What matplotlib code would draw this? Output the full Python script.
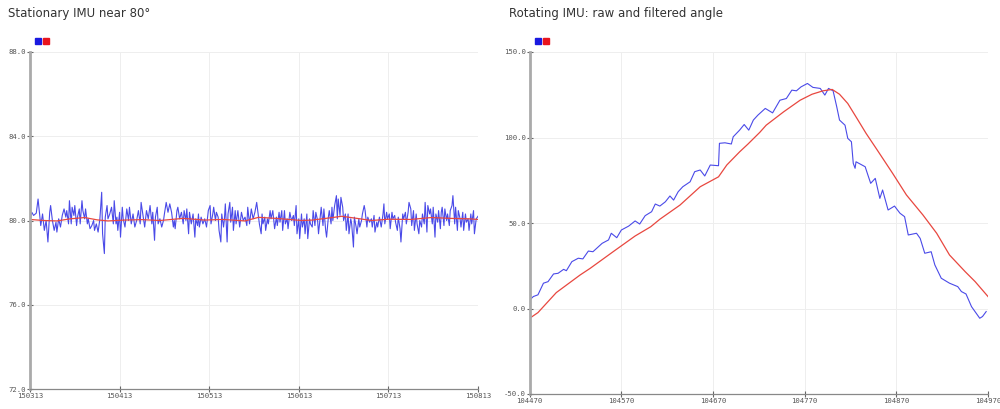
import numpy as np
import matplotlib.pyplot as plt
from matplotlib.patches import Rectangle

# stationary run: sample counter offsets from 150313 and angle readings
stat_start = 150313
stat_raw_t = [0, 2, 4, 7, 9, 12, 14, 16, 18, 20, 22, 23, 25, 27, 29, 30, 32, 34, 36, 38,
              40, 41, 43, 44, 46, 47, 49, 50, 52, 53, 55, 56, 58, 59, 61, 62, 64, 65, 67, 69,
              71, 72, 74, 76, 78, 80, 81, 83, 84, 86, 87, 89, 91, 93, 94, 96, 97, 98, 100, 101,
              103, 104, 106, 108, 110, 111, 113, 115, 117, 119, 121, 123, 124,
              128, 130, 132, 134, 136, 137, 139, 140, 142, 143, 145, 147, 149, 150, 152, 154,
              156, 158, 160, 161, 162, 164, 165, 167, 169, 171, 172, 174, 175, 177, 178, 180,
              182, 184, 185, 187, 188, 189, 191, 193, 195, 197, 199, 201, 202, 204, 205, 207,
              208, 210, 211, 213, 214, 216, 217, 218, 220, 221, 223, 224, 226, 227, 229, 230,
              232, 234, 236, 238, 240, 242, 243, 245, 247, 249, 251, 253,
              256, 258, 259, 260, 262, 263, 265, 266, 268, 269, 271, 273, 275, 276, 278, 279,
              281, 282, 284, 285, 287, 288, 290, 291, 292, 294, 295, 297, 298, 300, 301, 303,
              304, 306, 307, 309, 310, 312, 313, 315, 316, 318, 319, 321, 322, 324, 325, 327,
              328, 330, 331, 333, 334, 336, 337, 338, 340, 342, 343, 344, 346, 347, 349, 350,
              352, 353, 355, 356, 358, 359, 361, 362, 364, 365, 367, 368, 370, 371, 373, 374,
              376, 377, 379, 381,
              382, 384, 385, 387, 388, 390, 392, 394, 395, 396, 398, 399, 401, 402, 404, 405,
              407, 408, 410, 411, 413, 414, 416, 417, 419, 420, 422, 423, 425, 426, 428, 429,
              431, 432, 434, 435, 437, 438, 440, 441, 443, 444, 446, 447, 449, 450, 452, 453,
              455, 456, 458, 459, 460, 462, 463, 465, 466, 468, 469, 471, 472, 474, 475, 477,
              478, 480, 481, 483, 484, 486, 487, 489, 490, 492, 493, 495, 496, 498, 500]
stat_raw = [80.00, 80.39, 80.24, 80.35, 81.02, 79.76, 80.31, 79.53, 80.00, 78.98, 80.39, 80.71,
            80.00, 79.53, 79.92, 79.45, 80.08, 79.69, 80.24, 80.55, 80.16, 80.47, 79.84, 80.94,
            79.84, 80.63, 80.24, 80.71, 79.76, 80.16, 80.55, 79.84, 80.94, 80.47, 80.08, 80.55,
            79.84, 80.08, 79.61, 79.76, 80.00, 79.53, 79.84, 79.45, 80.08, 81.34, 79.37, 78.43,
            80.16, 80.71, 80.08, 80.31, 80.63, 79.84, 80.94, 79.84, 80.16, 79.53, 80.39, 79.21,
            80.63, 80.08, 79.69, 80.55, 80.00, 80.63, 79.84, 80.31, 79.69, 80.00, 80.47, 79.84,
            80.86,
            79.69, 80.47, 80.08, 80.71, 79.84, 80.39, 79.06, 80.16, 80.63, 79.84, 80.08, 79.69,
            80.00, 80.31, 80.86, 80.39, 80.79, 80.39, 79.69, 80.00, 79.61, 80.47, 80.63, 80.08,
            80.39, 79.84, 80.47, 80.00, 80.55, 79.37, 80.39, 79.84, 80.31, 79.21, 80.08, 79.76,
            80.31, 79.69, 80.16, 79.84, 80.08, 79.69, 80.47, 80.71, 79.84, 80.31, 80.63, 80.00,
            80.39, 80.16, 79.53, 78.98, 80.31, 79.69, 80.08, 80.79, 78.98, 80.31, 80.86, 79.92,
            80.63, 79.53, 80.47, 79.84, 80.47, 79.69, 80.39, 80.00, 80.16, 79.76, 80.63, 79.84,
            80.55, 80.08, 80.39, 80.86, 79.84,
            79.37, 80.31, 79.84, 80.16, 79.53, 80.08, 79.84, 80.47, 80.08, 80.47, 79.61, 80.16,
            79.76, 80.39, 79.92, 80.47, 79.53, 80.47, 79.84, 80.08, 79.61, 80.39, 80.16, 80.00,
            80.24, 79.76, 80.71, 79.37, 80.08, 79.14, 80.31, 79.69, 80.08, 79.37, 80.31, 79.14,
            80.08, 79.84, 79.69, 80.47, 79.76, 80.39, 80.00, 79.37, 80.24, 80.63, 79.76, 80.55,
            79.53, 79.21, 80.16, 80.47, 79.84, 80.63, 80.00, 80.71, 81.18, 80.08, 81.02, 80.24,
            81.10, 80.63, 80.00, 80.31, 79.53, 80.31, 79.37, 80.08, 79.84, 78.74, 80.16, 79.69,
            79.37, 80.08, 79.69, 80.00, 80.31, 80.71, 80.47, 79.69, 80.16, 79.92, 80.08, 79.69,
            80.24, 79.45, 79.92, 79.69, 80.16, 79.69, 80.31, 80.79, 79.84, 80.39, 80.08, 80.31,
            79.61, 80.39, 80.08, 80.24, 79.92, 79.53, 80.16, 79.61, 78.98, 80.31, 80.08, 80.39,
            79.84, 80.39, 80.86, 80.55, 79.76, 80.47, 79.53, 80.31, 79.84, 79.37, 80.00, 79.69,
            80.31, 79.84, 80.86, 79.45, 80.71, 80.31, 80.55, 79.84, 80.63, 79.21, 80.31, 79.92,
            80.47, 79.61, 80.39, 80.63, 79.76, 80.55, 80.00, 80.31, 79.76, 80.47, 80.71, 81.18,
            79.84, 80.63, 79.53, 80.47, 80.08, 79.69, 80.39, 79.53, 80.31, 79.92, 80.08, 79.53,
            80.31, 79.84, 80.47, 79.37, 80.08, 80.20]
stat_filt_t = [0, 15, 30, 45, 61, 75, 87, 105, 125, 145, 171, 195, 215, 240, 255, 275,
               303, 315, 330, 348, 365, 381, 400, 425, 448, 470, 490, 500]
stat_filt = [80.05, 80.00, 79.98, 80.08, 80.14, 80.03, 79.98, 80.02, 80.04, 80.00, 80.10,
             80.02, 80.05, 79.98, 80.15, 80.10, 80.00, 80.02, 80.10, 80.20, 80.10, 80.00,
             80.06, 80.05, 80.14, 80.10, 80.08, 80.05]

# rotating run
rot_start = 104470
rot_raw_t = [0, 4, 9, 15, 20, 26, 31, 37, 40, 46, 53, 58, 64, 69, 79, 86, 89, 95, 100,
             108, 115, 120, 126, 133, 137, 142, 148, 153, 157, 162, 167, 175, 180, 186, 191,
             197, 206, 207, 213, 220, 222, 229, 234, 239, 244, 249, 257, 265, 273, 280, 286,
             291, 296, 303, 309, 317, 322, 326, 331, 335, 338, 344, 347, 351, 353, 355, 356,
             366, 369, 372, 377, 382, 385, 387, 391, 398, 404, 409, 413, 422, 426, 431, 438,
             442, 449, 458, 467, 471, 476, 482, 491, 494, 498]
rot_raw = [5.0, 7.0, 8.0, 14.8, 15.7, 20.2, 20.6, 22.9, 22.1, 27.4, 29.4, 29.0, 33.6, 33.2,
           38.1, 40.1, 44.0, 41.4, 45.9, 48.2, 51.2, 49.4, 54.3, 56.6, 61.1, 59.9, 62.4, 65.8,
           63.4, 68.3, 71.2, 74.1, 80.0, 81.0, 77.5, 83.9, 83.5, 96.6, 96.9, 96.2, 100.4,
           104.3, 107.6, 104.3, 110.2, 113.1, 117.0, 114.4, 121.8, 122.8, 127.7, 127.3, 129.6,
           131.6, 129.3, 128.7, 124.8, 128.7, 127.3, 117.9, 110.2, 107.2, 99.5, 97.5, 84.9,
           82.0, 85.8, 82.9, 78.0, 73.2, 76.1, 64.4, 69.3, 65.4, 57.6, 59.9, 55.7, 53.7, 43.0,
           44.0, 41.0, 32.3, 33.2, 25.5, 17.7, 14.8, 12.8, 9.9, 8.5, 1.1, -5.7, -4.7, -1.8]
rot_filt_t = [0, 9, 29, 55, 66, 91, 115, 132, 142, 164, 186, 206, 215, 229, 238, 251, 258,
              277, 295, 308, 320, 330, 338, 347, 357, 367, 378, 396, 411, 429, 444, 458, 475,
              486, 500]
rot_filt = [-5.7, -2.4, 9.3, 19.6, 23.5, 33.2, 42.4, 47.8, 52.2, 60.5, 71.2, 77.0, 83.9,
            91.6, 96.1, 103.0, 107.2, 115.0, 121.8, 125.3, 127.3, 128.1, 125.3, 119.9, 111.2,
            102.4, 93.6, 79.0, 66.4, 54.7, 44.0, 31.3, 21.6, 15.7, 7.0]

BLUE = '#4a4ae8'
RED = '#e8473f'
SQ_BLUE = '#1a1ae0'
SQ_RED = '#e8141e'

fig = plt.figure(figsize=(10, 4.09), dpi=100)
W, H = 1000, 409


def style_axes(ax, xlo, ylo, yhi, ystep, xstep=100):
    ax.set_xlim(xlo, xlo + 500)
    ax.set_ylim(ylo, yhi)
    ax.set_xticks(np.arange(xlo, xlo + 501, xstep))
    ax.set_yticks(np.arange(ylo, yhi + 0.01, ystep))
    ax.set_xticklabels([str(v) for v in np.arange(xlo, xlo + 501, xstep)])
    ax.set_yticklabels([f'{v:.1f}' for v in np.arange(ylo, yhi + 0.01, ystep)])
    for lbl in ax.get_xticklabels() + ax.get_yticklabels():
        lbl.set_family('DejaVu Sans Mono')
        lbl.set_fontsize(5.2)
        lbl.set_color('#555555')
    ax.tick_params(direction='inout', length=5, width=0.8, color='#666666', pad=0.5)
    ax.grid(True, color='#eeeeee', lw=0.7)
    for s in ('top', 'right'):
        ax.spines[s].set_visible(False)
    ax.spines['left'].set_color('#aaaaaa')
    ax.spines['left'].set_linewidth(2)
    ax.spines['bottom'].set_color('#888888')
    ax.spines['bottom'].set_linewidth(0.9)
    ax.set_axisbelow(True)


ax1 = fig.add_axes([30 / W, 1 - 389 / H, 448 / W, 337 / H])
ax1.plot(stat_start + np.array(stat_raw_t), stat_raw, color=BLUE, lw=0.8)
ax1.plot(stat_start + np.array(stat_filt_t), stat_filt, color=RED, lw=0.9)
style_axes(ax1, stat_start, 72, 88, 4)

ax2 = fig.add_axes([529.7 / W, 1 - 394 / H, 458.3 / W, 342 / H])
ax2.plot(rot_start + np.array(rot_raw_t), rot_raw, color=BLUE, lw=0.8)
ax2.plot(rot_start + np.array(rot_filt_t), rot_filt, color=RED, lw=0.9)
style_axes(ax2, rot_start, -50, 150, 50)

fig.text(8 / W, 1 - 14 / H, 'Stationary IMU near 80°', fontsize=8.5, color='#333333',
         va='center', ha='left')
fig.text(509 / W, 1 - 14 / H, 'Rotating IMU: raw and filtered angle', fontsize=8.5,
         color='#333333', va='center', ha='left')

for x0 in (35, 535):
    fig.patches.append(Rectangle((x0 / W, 1 - 44 / H), 6 / W, 6 / H, color=SQ_BLUE,
                                 transform=fig.transFigure, figure=fig))
    fig.patches.append(Rectangle(((x0 + 8) / W, 1 - 44 / H), 6 / W, 6 / H, color=SQ_RED,
                                 transform=fig.transFigure, figure=fig))

fig.savefig('out.png', dpi=100)
